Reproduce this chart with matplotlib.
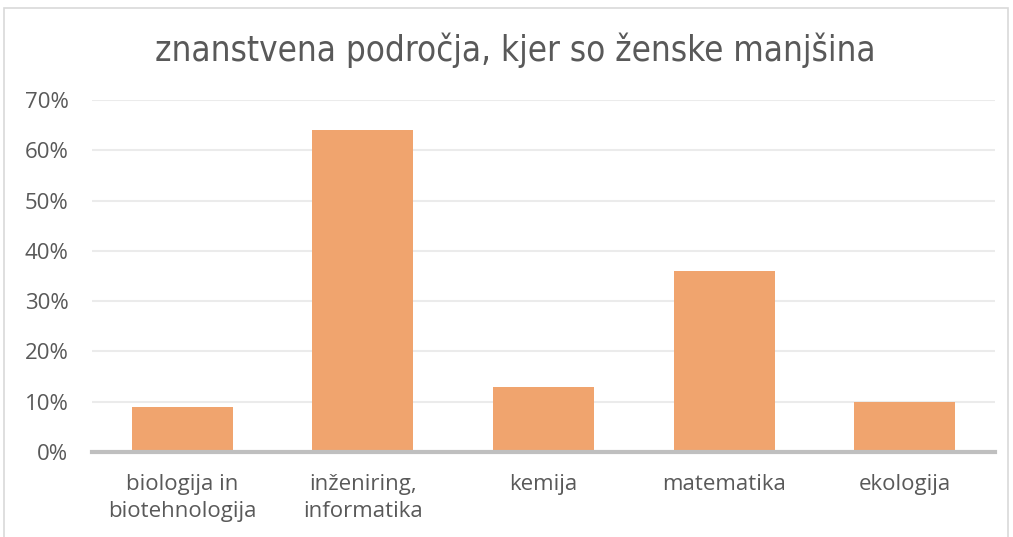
import matplotlib
matplotlib.use("Agg")
import matplotlib.pyplot as plt
from matplotlib.patches import Rectangle
from matplotlib.ticker import FuncFormatter

categories = ["biologija in\nbiotehnologija", "inženiring,\ninformatika", "kemija", "matematika", "ekologija"]
values = [9, 64, 13, 36, 10]
yticks = [0, 10, 20, 30, 40, 50, 60, 70]
title = "znanstvena področja, kjer so ženske manjšina"

fig = plt.figure(figsize=(10.13, 5.37), dpi=100)
ax = fig.add_axes([92/1013, 85/537, 903/1013, 352/537])

x = list(range(len(categories)))
ax.bar(x, values, width=0.56, color="#F0A46E", zorder=3)
ax.set_xlim(-0.5, len(categories) - 0.5)
ax.set_ylim(0, 70)
ax.set_yticks(yticks)
ax.yaxis.set_major_formatter(FuncFormatter(lambda v, p: f"{int(v)}%"))
ax.set_xticks(x)
ax.set_xticklabels(categories, fontsize=16, color="#595959", family="Open Sans", linespacing=1.35)
for lab in ax.get_yticklabels():
    lab.set_fontsize(16)
    lab.set_color("#595959")
    lab.set_family("Open Sans")
ax.tick_params(axis="both", length=0)
ax.tick_params(axis="x", pad=16)
ax.tick_params(axis="y", pad=17)
ax.grid(axis="y", color="#EBEBEB", linewidth=1.5, zorder=0)
for s in ["top", "right", "left"]:
    ax.spines[s].set_visible(False)
ax.spines["bottom"].set_color("#BFBFBF")
ax.spines["bottom"].set_linewidth(3)
ax.spines["bottom"].set_zorder(4)

fig.text(515/1013, 1 - 50/537, title, ha="center", va="center", fontsize=25,
         color="#595959", family="DejaVu Sans", fontstretch="condensed")

fig.patches.append(Rectangle((4/1013, -0.01), 1004/1013, 1 - 8/537 + 0.01, transform=fig.transFigure,
                             fill=False, edgecolor="#D9D9D9", linewidth=1.2))

fig.savefig("out.png", dpi=100)
